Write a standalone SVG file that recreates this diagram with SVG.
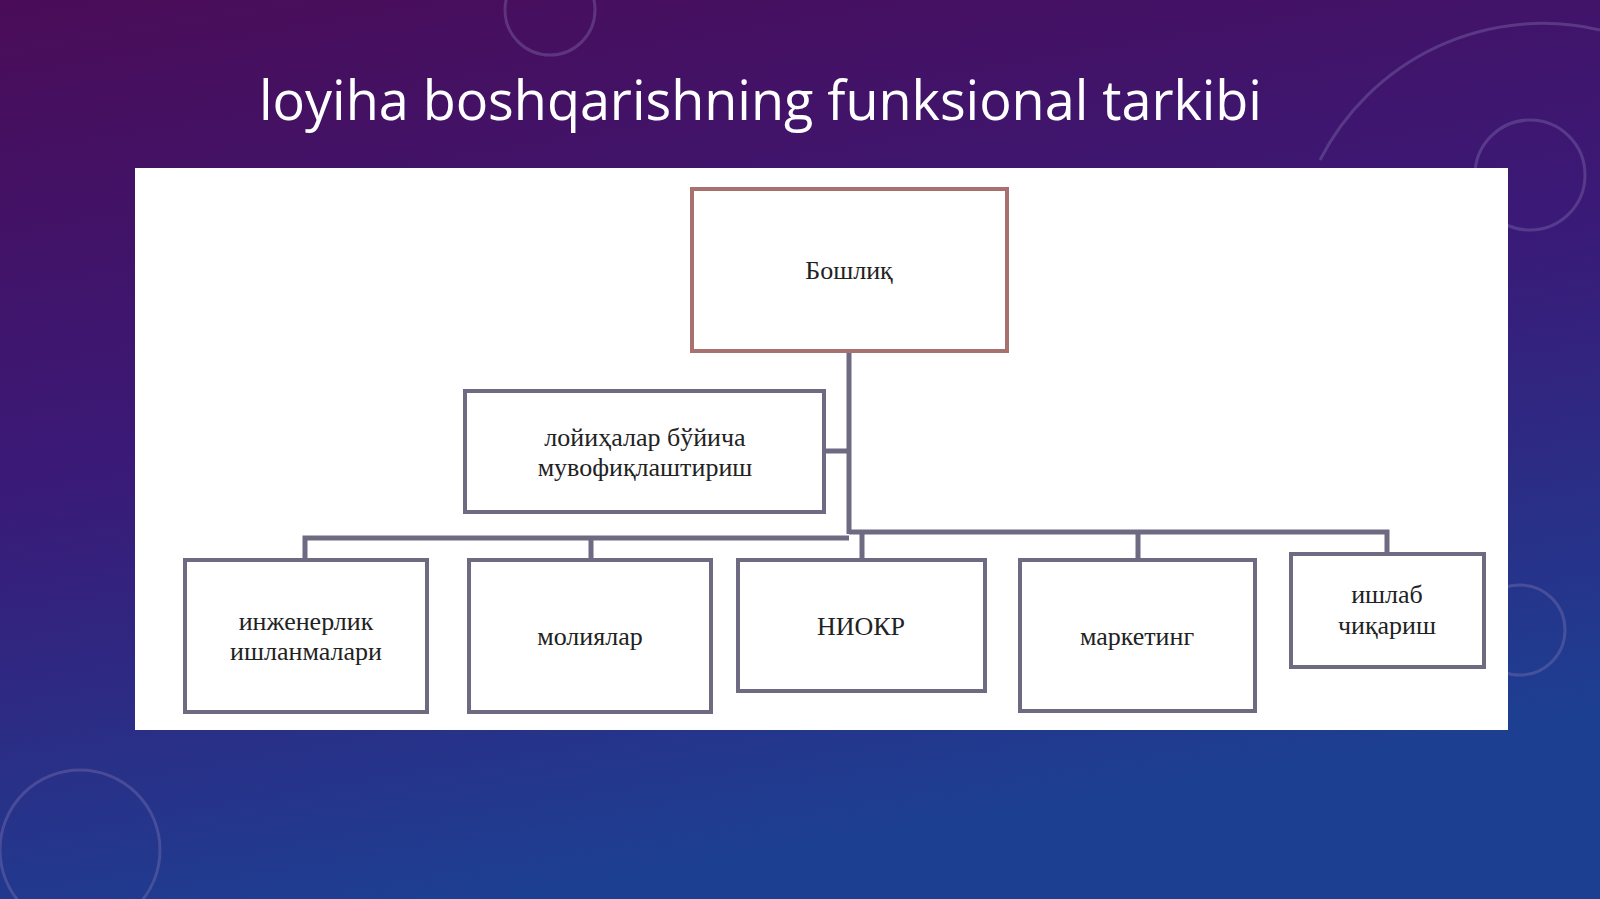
<svg xmlns="http://www.w3.org/2000/svg" width="1600" height="899" viewBox="0 0 1600 899">
<defs>
<linearGradient id="bg" x1="0" y1="0" x2="0.3" y2="1">
<stop offset="0" stop-color="#4a0c58"/>
<stop offset="0.5" stop-color="#3a1a78"/>
<stop offset="1" stop-color="#1d3f92"/>
</linearGradient>
</defs>
<style>
.box{fill:#fff;stroke:#6e6a82;stroke-width:4}
.t{font-family:"Liberation Serif","DejaVu Serif",serif;font-size:26px;fill:#222;text-anchor:middle}
.ln{stroke:#6e6a82;stroke-width:5;fill:none}
</style>
<rect width="1600" height="899" fill="url(#bg)"/>
<g fill="none" stroke="#8a7ab8" stroke-opacity="0.35" stroke-width="3">
<circle cx="1530" cy="175" r="55"/>
<path d="M1320 160 A250 250 0 0 1 1600 30"/>
<circle cx="80" cy="850" r="80"/>
<circle cx="1520" cy="630" r="45"/>
<circle cx="550" cy="10" r="45"/>
</g>
<text x="259" y="120" font-family="Open Sans, sans-serif" font-size="54" textLength="1003" fill="#fff">loyiha boshqarishning funksional tarkibi</text>
<rect x="135" y="168" width="1373" height="562" fill="#fff"/>
<g id="connectors">
<path class="ln" d="M849 351 V534 M824 451 H849 M305 560 V538 H849 M849 532 H1387 V554 M591 538 V560 M862 534 V560 M1138 532 V560"/>
</g>
<g id="boss"><rect class="box" x="692" y="189" width="315" height="162" style="stroke:#a8706e"/><text class="t" x="849" y="279">Бошлиқ</text></g>
<g id="coord"><rect class="box" x="465" y="391" width="359" height="121"/><text class="t" x="645" y="446">лойиҳалар бўйича</text><text class="t" x="645" y="476">мувофиқлаштириш</text></g>
<g id="n1"><rect class="box" x="185" y="560" width="242" height="152"/><text class="t" x="306" y="630">инженерлик</text><text class="t" x="306" y="660">ишланмалари</text></g>
<g id="n2"><rect class="box" x="469" y="560" width="242" height="152"/><text class="t" x="590" y="645">молиялар</text></g>
<g id="n3"><rect class="box" x="738" y="560" width="247" height="131"/><text class="t" x="861" y="635">НИОКР</text></g>
<g id="n4"><rect class="box" x="1020" y="560" width="235" height="151"/><text class="t" x="1137" y="645">маркетинг</text></g>
<g id="n5"><rect class="box" x="1291" y="554" width="193" height="113"/><text class="t" x="1387" y="603">ишлаб</text><text class="t" x="1387" y="634">чиқариш</text></g>
</svg>
